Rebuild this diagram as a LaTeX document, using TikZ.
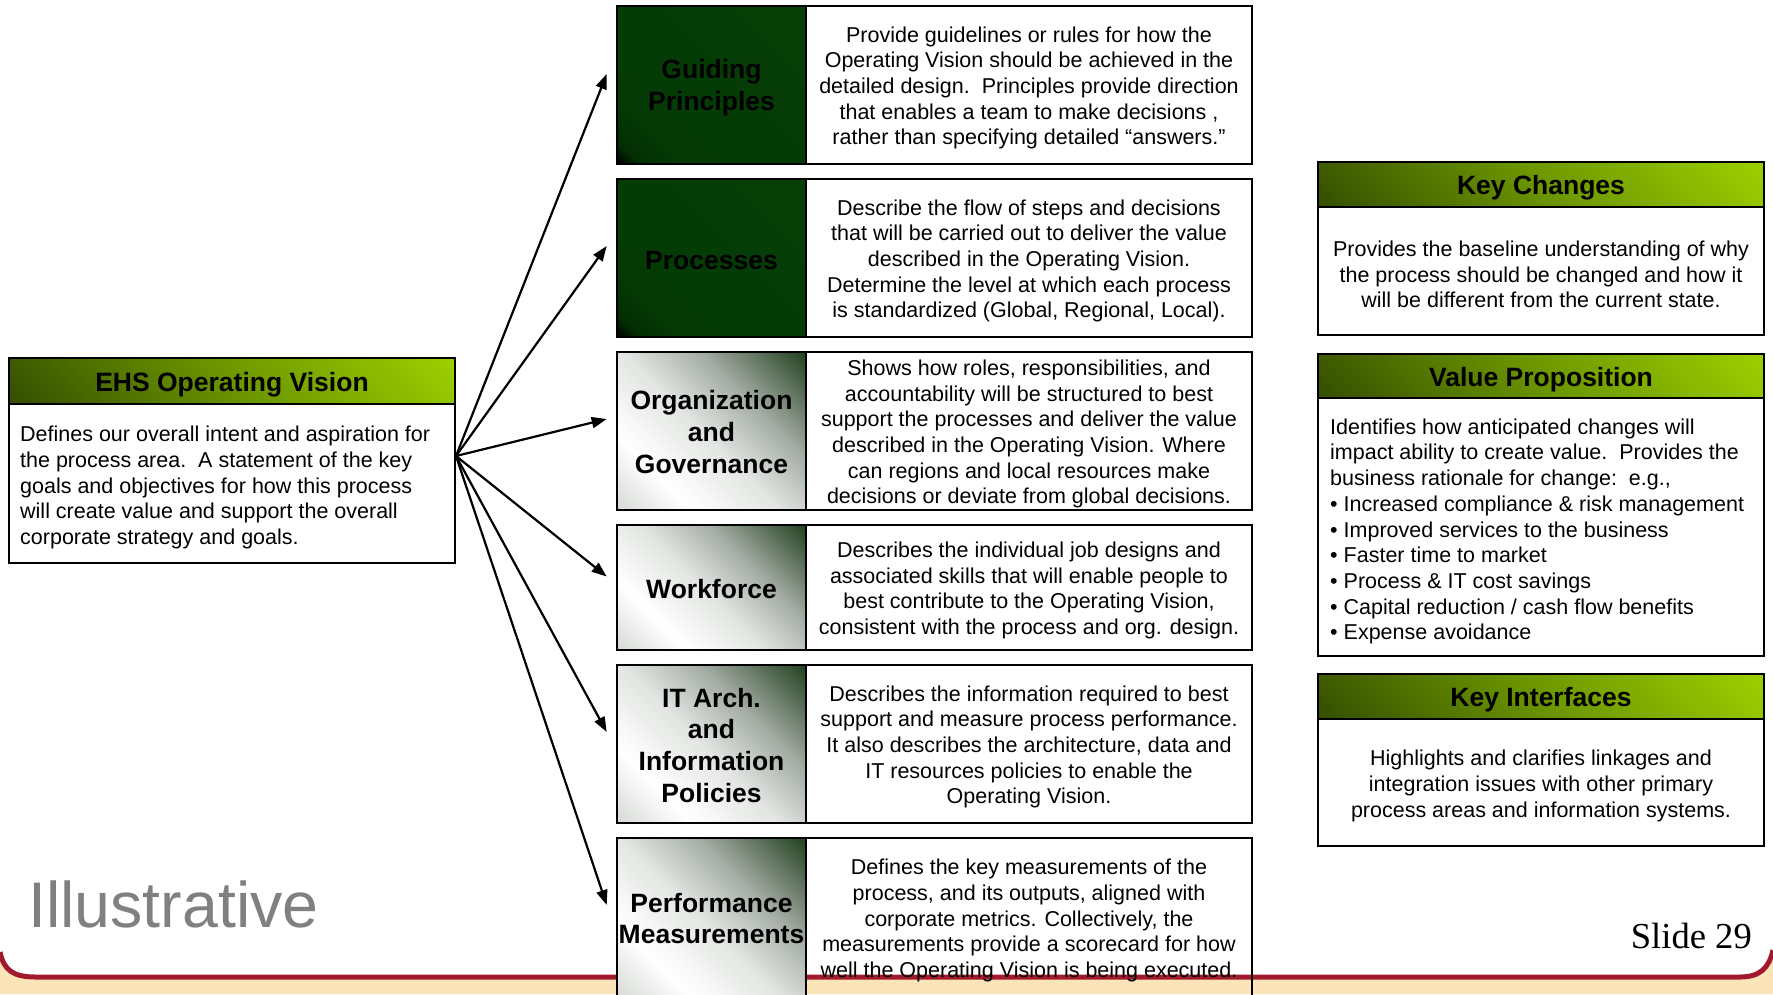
\documentclass[tikz,border=0pt]{standalone}
\usepackage{fontspec}
\setmainfont{Liberation Sans}
\newfontfamily\slidefont{Liberation Serif}
\usetikzlibrary{arrows.meta,calc}

% colours
\definecolor{hdrDark}{HTML}{344E00}
\definecolor{hdrMid}{HTML}{6C9600}
\definecolor{hdrLight}{HTML}{9DD000}
\definecolor{lblGreen}{HTML}{21401F}
\definecolor{lblGrey}{HTML}{A3ABA3}
\definecolor{lblPale}{HTML}{E2E5E2}
\definecolor{lblEdge}{HTML}{D6DAD6}
\definecolor{deepA}{HTML}{000000}
\definecolor{deepB}{HTML}{032D03}
\definecolor{deepC}{HTML}{053A05}
\definecolor{deepD}{HTML}{063F06}
\definecolor{bandRed}{HTML}{A2182D}
\definecolor{bandBeige}{HTML}{FAE4B8}
\definecolor{stampGrey}{HTML}{808080}

% diagonal shadings (bottom-left corner at 14.6bp, top-right corner at 85.4bp)
\pgfdeclarehorizontalshading{hdrshade}{100bp}{color(0bp)=(hdrDark); color(14.6bp)=(hdrDark); color(50bp)=(hdrMid); color(85.4bp)=(hdrLight); color(100bp)=(hdrLight)}
\pgfdeclarehorizontalshading{paleshade}{100bp}{color(0bp)=(lblEdge); color(14.6bp)=(lblEdge); color(30bp)=(white); color(48bp)=(lblPale); color(64bp)=(lblGrey); color(85.4bp)=(lblGreen); color(100bp)=(lblGreen)}
\pgfdeclarehorizontalshading{deepshade}{100bp}{color(0bp)=(deepA); color(14.6bp)=(deepA); color(19bp)=(deepB); color(28bp)=(deepC); color(85.4bp)=(deepD); color(100bp)=(deepD)}

\tikzset{
  box/.style={draw=black, line width=2.6pt, inner sep=0pt},
  hdr/.style={box, shade, shading=hdrshade, shading angle=45, minimum width=446pt},
  hdrtext/.style={inner sep=0pt, font=\fontsize{26.5}{31.7}\selectfont\bfseries},
  body/.style={box, fill=white, minimum width=446pt},
  lbl/.style={box, shade, shading angle=45, minimum width=189pt},
  palelbl/.style={lbl, shading=paleshade},
  deeplbl/.style={lbl, shading=deepshade},
  lbltext/.style={inner sep=0pt, align=center, font=\fontsize{26.5}{31.7}\selectfont\bfseries},
  desc/.style={box, minimum width=446pt},
  bodytext/.style={inner sep=0pt, align=center, font=\fontsize{21.5}{25.7}\selectfont},
  lefttext/.style={bodytext, anchor=west, align=left},
  link/.style={line width=2.2pt, -{Triangle[length=15pt,width=11pt]}},
}

\begin{document}
\begin{tikzpicture}[x=1pt,y=-1pt]
\useasboundingbox (0,0) rectangle (1773,994);
\clip (0,0) rectangle (1773,994);

% slide footer band
\fill[bandBeige] (0,952) .. controls (4,971) and (14,977) .. (36,977) -- (1740,977)
  .. controls (1760,977) and (1769,968) .. (1773,950) -- (1773,994) -- (0,994) -- cycle;
\draw[bandRed, line width=5pt] (0,952) .. controls (4,971) and (14,977) .. (36,977) -- (1740,977)
  .. controls (1760,977) and (1769,968) .. (1773,950);

% left: operating vision
\node[hdr, minimum height=46pt] (ehsh) at (232,381) {};
\node[hdrtext] (ehshtxt) at ($(ehsh)+(0,3.4)$) {EHS Operating Vision};
\node[body, minimum height=159pt] (ehsb) at (232,483.5) {};
\node[lefttext] (ehst) at (20,487.5)
  {Defines our overall intent and aspiration for\\
   the process area.\ \ A statement of the key\\
   goals and objectives for how this process\\
   will create value and support the overall\\
   corporate strategy and goals.};

% middle: design components
\node[deeplbl, minimum height=158pt] (l1) at (711.5,85) {};
\node[lbltext] (l1txt) at ($(l1)+(0,2.8)$) {Guiding\\Principles};
\node[desc, fill=white, minimum height=158pt] (t1) at (1029,85) {};
\node[bodytext] (t1txt) at ($(t1)+(0,3)$)
  {Provide guidelines or rules for how the\\
   Operating Vision should be achieved in the\\
   detailed design.\ \ Principles provide direction\\
   that enables a team to make decisions ,\\
   rather than specifying detailed “answers.”};

\node[deeplbl, minimum height=158pt] (l2) at (711.5,258) {};
\node[lbltext] (l2txt) at ($(l2)+(0,2.3)$) {Processes};
\node[desc, fill=white, minimum height=158pt] (t2) at (1029,258) {};
\node[bodytext] (t2txt) at ($(t2)+(0,3)$)
  {Describe the flow of steps and decisions\\
   that will be carried out to deliver the value\\
   described in the Operating Vision.\\
   Determine the level at which each process\\
   is standardized (Global, Regional, Local).};

\node[palelbl, minimum height=158pt] (l3) at (711.5,431) {};
\node[lbltext] (l3txt) at ($(l3)+(0,1.2)$) {Organization\\and\\Governance};
\node[desc, fill=white, minimum height=158pt] (t3) at (1029,431) {};
\node[bodytext] (t3txt) at ($(t3)+(0,3)$)
  {Shows how roles, responsibilities, and\\
   accountability will be structured to best\\
   support the processes and deliver the value\\
   described in the Operating Vision. Where\\
   can regions and local resources make\\
   decisions or deviate from global decisions.};

\node[palelbl, minimum height=125pt] (l4) at (711.5,587.5) {};
\node[lbltext] (l4txt) at ($(l4)+(0,1.2)$) {Workforce};
\node[desc, fill=white, minimum height=125pt] (t4) at (1029,587.5) {};
\node[bodytext] (t4txt) at ($(t4)+(0,3)$)
  {Describes the individual job designs and\\
   associated skills that will enable people to\\
   best contribute to the Operating Vision,\\
   consistent with the process and org. design.};

\node[palelbl, minimum height=158pt] (l5) at (711.5,744) {};
\node[lbltext] (l5txt) at ($(l5)+(0,1.2)$) {IT Arch.\\and\\Information\\Policies};
\node[desc, fill=white, minimum height=158pt] (t5) at (1029,744) {};
\node[bodytext] (t5txt) at ($(t5)+(0,3)$)
  {Describes the information required to best\\
   support and measure process performance.\\
   It also describes the architecture, data and\\
   IT resources policies to enable the\\
   Operating Vision.};

\node[palelbl, minimum height=160pt] (l6) at (711.5,918) {};
\node[lbltext] (l6txt) at ($(l6)+(0,0.5)$) {Performance\\Measurements};
\node[desc, minimum height=160pt] (t6) at (1029,918) {};
\node[bodytext] (t6txt) at ($(t6)+(0,2.5)$)
  {Defines the key measurements of the\\
   process, and its outputs, aligned with\\
   corporate metrics. Collectively, the\\
   measurements provide a scorecard for how\\
   well the Operating Vision is being executed.};

% right: supporting elements
\node[hdr, minimum height=45pt] (kch) at (1541,184.5) {};
\node[hdrtext] (kchtxt) at ($(kch)+(0,3)$) {Key Changes};
\node[body, minimum height=128pt] (kcb) at (1541,271) {};
\node[bodytext] (kcbtxt) at ($(kcb)+(0,3.5)$)
  {Provides the baseline understanding of why\\
   the process should be changed and how it\\
   will be different from the current state.};

\node[hdr, minimum height=44pt] (vph) at (1541,376) {};
\node[hdrtext] (vphtxt) at ($(vph)+(0,3.4)$) {Value Proposition};
\node[body, minimum height=258pt] (vpb) at (1541,527) {};
\node[lefttext] (vpt) at (1330,531.5)
  {Identifies how anticipated changes will\\
   impact ability to create value.\ \ Provides the\\
   business rationale for change:\ \ e.g.,\\
   • Increased compliance \& risk management\\
   • Improved services to the business\\
   • Faster time to market\\
   • Process \& IT cost savings\\
   • Capital reduction / cash flow benefits\\
   • Expense avoidance};

\node[hdr, minimum height=45pt] (kih) at (1541,696.5) {};
\node[hdrtext] (kihtxt) at ($(kih)+(0,3.4)$) {Key Interfaces};
\node[body, minimum height=127pt] (kib) at (1541,782.5) {};
\node[bodytext] (kibtxt) at ($(kib)+(0,3.5)$)
  {Highlights and clarifies linkages and\\
   integration issues with other primary\\
   process areas and information systems.};

% arrows from the vision to each component
\coordinate (src) at (456,456);
\foreach \i/\dy in {1/11,2/12,3/12,4/11,5/12,6/13}{
  \coordinate (a\i) at ($(l\i.west)+(-9,-\dy)$);
  \draw[link] (src) -- (a\i);
}

% stamps
\node[anchor=base west, inner sep=0pt, text=stampGrey, font=\fontsize{64.5}{72}\selectfont] (stamp) at (28,927) {Illustrative};
\node[anchor=base east, inner sep=0pt, font=\slidefont\fontsize{36.6}{40}\selectfont] (slide) at (1752,948) {Slide 29};
\end{tikzpicture}
\end{document}
